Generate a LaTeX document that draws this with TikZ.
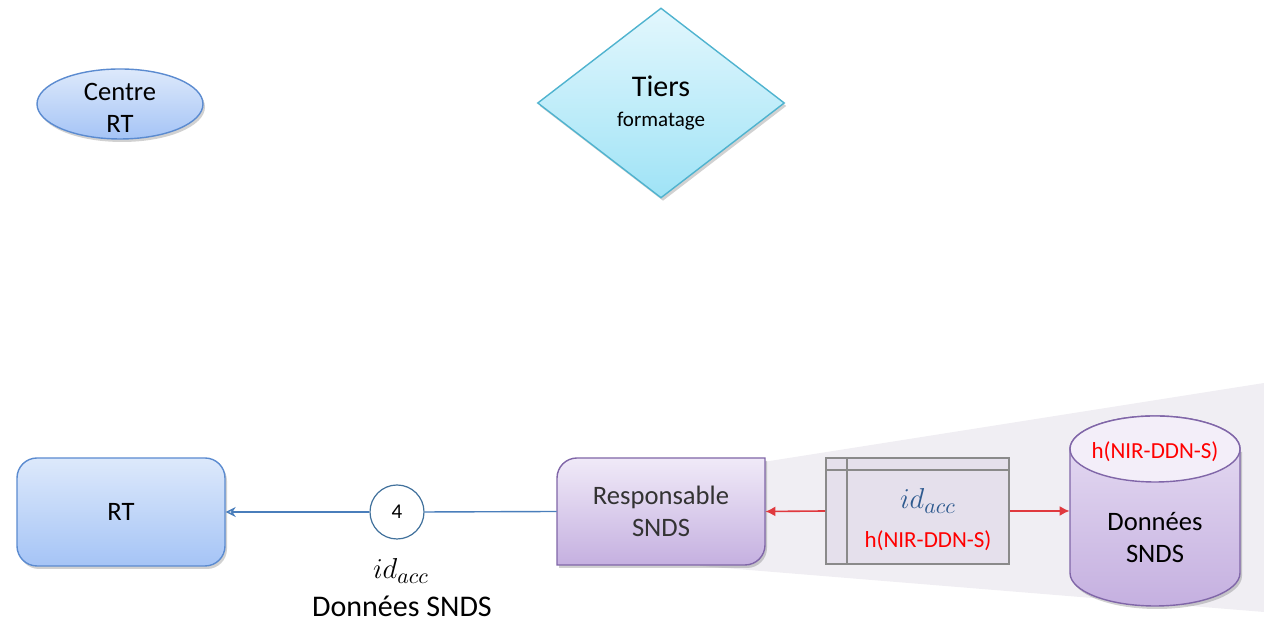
\documentclass[tikz,border=0pt]{standalone}
\usepackage{fontspec}
\setmainfont{Carlito}
\usetikzlibrary{shapes.geometric,arrows.meta,shadows}
\definecolor{bluetop}{HTML}{DDE9FB}
\definecolor{bluebot}{HTML}{A5C4F6}
\definecolor{blueborder}{HTML}{5B8BD0}
\definecolor{cyantop}{HTML}{E3F7FD}
\definecolor{cyanbot}{HTML}{9FE3F6}
\definecolor{cyanborder}{HTML}{4FB3CF}
\definecolor{purptop}{HTML}{F0EAF8}
\definecolor{purpbot}{HTML}{C5B0E0}
\definecolor{purpborder}{HTML}{8066A8}
\definecolor{cyltop}{HTML}{F3EEF9}
\definecolor{tabfill}{HTML}{E5E0EC}
\definecolor{tabborder}{HTML}{8A8A8A}
\definecolor{arrowred}{HTML}{E0393E}
\definecolor{linkblue}{HTML}{4A7EBB}
\definecolor{circborder}{HTML}{41719C}
\definecolor{mathblue}{HTML}{2E5A8F}
\definecolor{greyzone}{HTML}{F0EEF3}
\tikzset{
  x=0.5pt, y=0.5pt,
  mainfont/.style={font=\fontsize{13.3}{16}\selectfont},
  mathfont/.style={font=\fontsize{15.5}{18}\selectfont},
  softshadow/.style={drop shadow={shadow xshift=1pt, shadow yshift=-1.5pt, opacity=0.18, fill=black}},
  bluefill/.style={top color=bluetop, bottom color=bluebot, draw=blueborder, line width=0.7pt},
  redarrow/.style={draw=arrowred, line width=0.8pt, -{Latex[length=5pt,width=5pt]}},
  blueline/.style={draw=linkblue, line width=0.7pt},
  bluearrow/.style={blueline, -{Stealth[length=5pt,width=5pt,open]}},
  redtext/.style={text=red, font=\fontsize{11.5}{14}\selectfont},
}
\begin{document}
\begin{tikzpicture}
\useasboundingbox (0,0) rectangle (1264,640);

% grey zone
\fill[greyzone] (700,168) -- (1264,257) -- (1264,28) -- (700,74) -- cycle;

% Centre RT
\node (centre) [ellipse, bluefill, softshadow, minimum width=83pt, minimum height=35pt, inner sep=0pt] at (120,536) {};
\node (centretext) [align=center, mainfont] at (120,532) {Centre\\RT};

% Tiers
\node (tiers) [diamond, top color=cyantop, bottom color=cyanbot, draw=cyanborder, line width=0.7pt, softshadow, minimum width=123.5pt, minimum height=95pt, inner sep=0pt] at (661,537) {};
\node (tierstext) [align=center] at (661,537)
  {{\fontsize{15}{18}\selectfont Tiers}\\[3pt]{\fontsize{10.5}{13}\selectfont formatage}};

% RT
\node (rt) [rectangle, rounded corners=10pt, bluefill, softshadow, minimum width=104pt, minimum height=54pt, mainfont] at (121,128) {RT};

% circle 4
\node (c4) [circle, draw=circborder, fill=white, line width=0.6pt, minimum size=27pt, inner sep=0pt, font=\fontsize{10.5}{12}\selectfont] at (397,128) {4};

% labels below
\node (lid) [mathfont] at (401,69) {$id_{acc}$};
\node (ldata) [font=\fontsize{15}{18}\selectfont] at (402,34) {Données SNDS};

% Responsable SNDS
\node (resp) [rectangle, minimum width=104pt, minimum height=53.5pt, inner sep=0pt] at (661,128.5) {};
\fill[black, opacity=0.18] (559,72) -- (559,159) arc[start angle=180, end angle=90, radius=10pt] -- (767,179) -- (767,92) arc[start angle=0, end angle=-90, radius=10pt] -- cycle;
\shade[top color=purptop, bottom color=purpbot, draw=purpborder, line width=0.7pt]
  (557,75) -- (557,162) arc[start angle=180, end angle=90, radius=10pt] -- (765,182) -- (765,95) arc[start angle=0, end angle=-90, radius=10pt] -- cycle;
\node (resptext) [align=center, mainfont, text=black!80] at (resp) {Responsable\\SNDS};

% table
\node (tab) [rectangle, draw=tabborder, fill=tabfill, line width=0.9pt, minimum width=91.5pt, minimum height=53pt, inner sep=0pt] at (917.5,129) {};
\draw[tabborder, line width=0.9pt] ([yshift=-6.5pt]tab.north west) -- ([yshift=-6.5pt]tab.north east);
\draw[tabborder, line width=0.9pt] ([xshift=11pt]tab.north west) -- ([xshift=11pt]tab.south west);
\node (tabid) [text=mathblue, mathfont] at (928,139) {$id_{acc}$};
\node (tabh) [redtext] at (928,99) {h(NIR-DDN-S)};

% cylinder
\node (cyl) [rectangle, minimum width=85pt, minimum height=95pt, inner sep=0pt] at (1155,129) {};
\fill[black, opacity=0.18] (1072,188) -- (1072,64) arc[start angle=180, end angle=360, x radius=42.5pt, y radius=16.5pt] -- (1242,188) -- cycle;
\shade[top color=purptop!80!purpbot, bottom color=purpbot, draw=purpborder, line width=0.7pt]
  (1070,191) -- (1070,67) arc[start angle=180, end angle=360, x radius=42.5pt, y radius=16.5pt] -- (1240,191) arc[start angle=0, end angle=180, x radius=42.5pt, y radius=16.5pt] -- cycle;
\filldraw[fill=cyltop, draw=purpborder, line width=0.7pt] (1155,191) ellipse[x radius=42.5pt, y radius=16.5pt];
\node (cylh) [redtext] at (1155,188) {h(NIR-DDN-S)};
\node (cyltext) [align=center, mainfont] at (1155,102) {Données\\SNDS};

% connectors
\draw[blueline] (resp.west) -- (c4.east);
\draw[bluearrow] (c4.west) -- (rt.east);
\draw[redarrow] (tab.west) -- (resp.east);
\draw[redarrow] (tab.east) -- (cyl.west);
\end{tikzpicture}
\end{document}
